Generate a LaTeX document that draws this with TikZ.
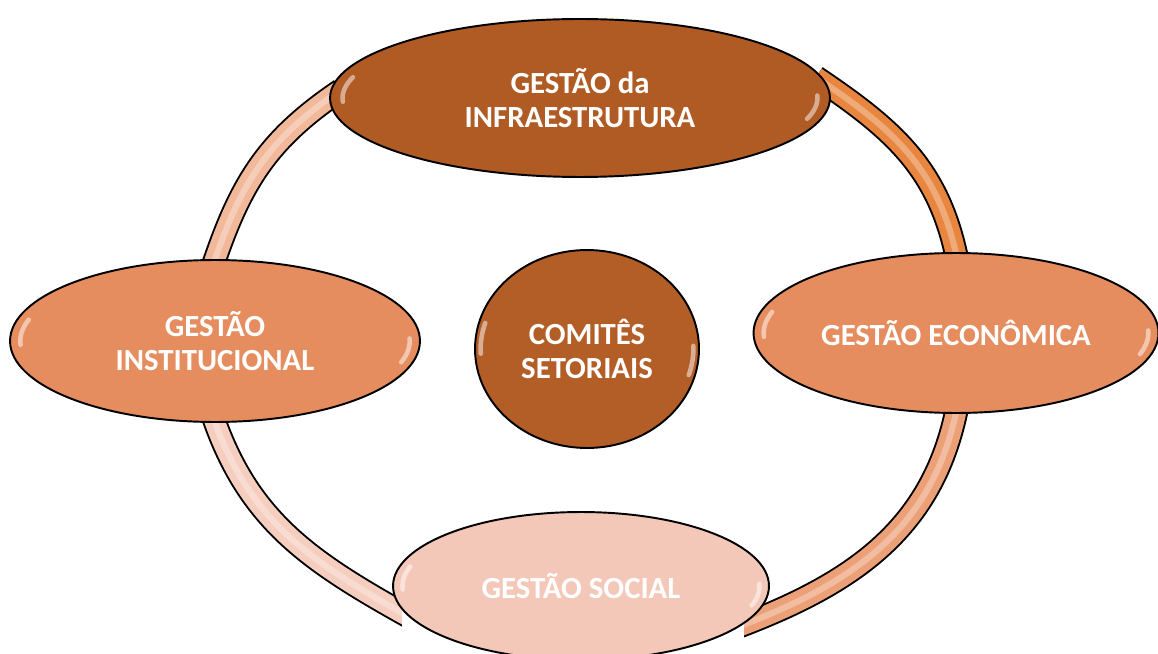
\documentclass[tikz,border=0pt]{standalone}
\usepackage{fontspec}
\setmainfont{Carlito}
\usetikzlibrary{shapes.geometric,backgrounds,calc}

\definecolor{infracol}{HTML}{B05A24}
\definecolor{comitecol}{HTML}{B35E26}
\definecolor{ladocol}{HTML}{E58D5F}
\definecolor{socialcol}{HTML}{F3C8B8}
\definecolor{arcoTL}{HTML}{F2B89A}
\definecolor{arcoTR}{HTML}{E8863F}
\definecolor{arcoBR}{HTML}{ECA078}
\definecolor{arcoBL}{HTML}{F5CEBF}

\tikzset{
  gloss/.style={path picture={
    \draw[white, opacity=.5, line width=2.6pt, line cap=round]
      let \p1=($(path picture bounding box.north east)-(path picture bounding box.center)$) in
      ($(path picture bounding box.center)+({0.95*\x1*cos(163)},{0.9*\y1*sin(163)})$)
        arc[start angle=163, end angle=183, x radius=0.95*\x1, y radius=0.9*\y1]
      ($(path picture bounding box.center)+({0.95*\x1*cos(-17)},{0.9*\y1*sin(-17)})$)
        arc[start angle=-17, end angle=2, x radius=0.95*\x1, y radius=0.9*\y1];
  }},
  gestao/.style={ellipse, draw=black, line width=1.1pt, inner sep=0pt, align=center,
    text=white, font=\bfseries\fontsize{17.5}{19}\selectfont, gloss},
  anel/.style={draw=#1, line width=11.5pt, shorten <=-8pt, shorten >=-10pt,
    preaction={draw=black, line width=13.7pt},
    postaction={draw=white, draw opacity=.3, line width=3.5pt}}
}

\begin{document}
\begin{tikzpicture}[x=0.02cm, y=0.02cm]
\useasboundingbox (0,0) rectangle (1158,653);

\node[gestao, fill=infracol, minimum width=10cm, minimum height=3.16cm] (infra) at (580,555) {GESTÃO da\\INFRAESTRUTURA};
\node[gestao, fill=ladocol, minimum width=8.2cm, minimum height=3.24cm] (institucional) at (215,312) {GESTÃO\\INSTITUCIONAL};
\node[gestao, fill=ladocol, minimum width=8.1cm, minimum height=3.2cm] (economica) at (956,320) {GESTÃO ECONÔMICA};
\node[gestao, fill=socialcol, minimum width=7.52cm, minimum height=2.96cm] (social) at (581,67) {GESTÃO SOCIAL};
\node[gestao, fill=comitecol, minimum width=4.48cm, minimum height=3.96cm] (comites) at (587,304) {COMITÊS\\SETORIAIS};

% anel por tras dos elipses
\begin{scope}[on background layer]
  \fill[white] (0,0) rectangle (1158,653);
  \draw[anel=arcoTL] (infra.west) to[out=214, in=72] (institucional.north);
  \draw[anel=arcoTR] (infra.3) to[out=-34, in=100] (economica.north);
  \draw[anel=arcoBR] (economica.south) to[out=-100, in=20] (social.-14);
  \draw[anel=arcoBL] (institucional.south) to[out=-72, in=151] (social.190);
  % pontas do anel escondidas sob GESTAO SOCIAL
  \fill[white] (social.center) ++(198:188 and 74) coordinate (sa)
    arc[start angle=198, end angle=330, x radius=188, y radius=74] coordinate (sb)
    -- (sb |- 0,-10) -- (sa |- 0,-10) -- cycle;
\end{scope}
\end{tikzpicture}
\end{document}
